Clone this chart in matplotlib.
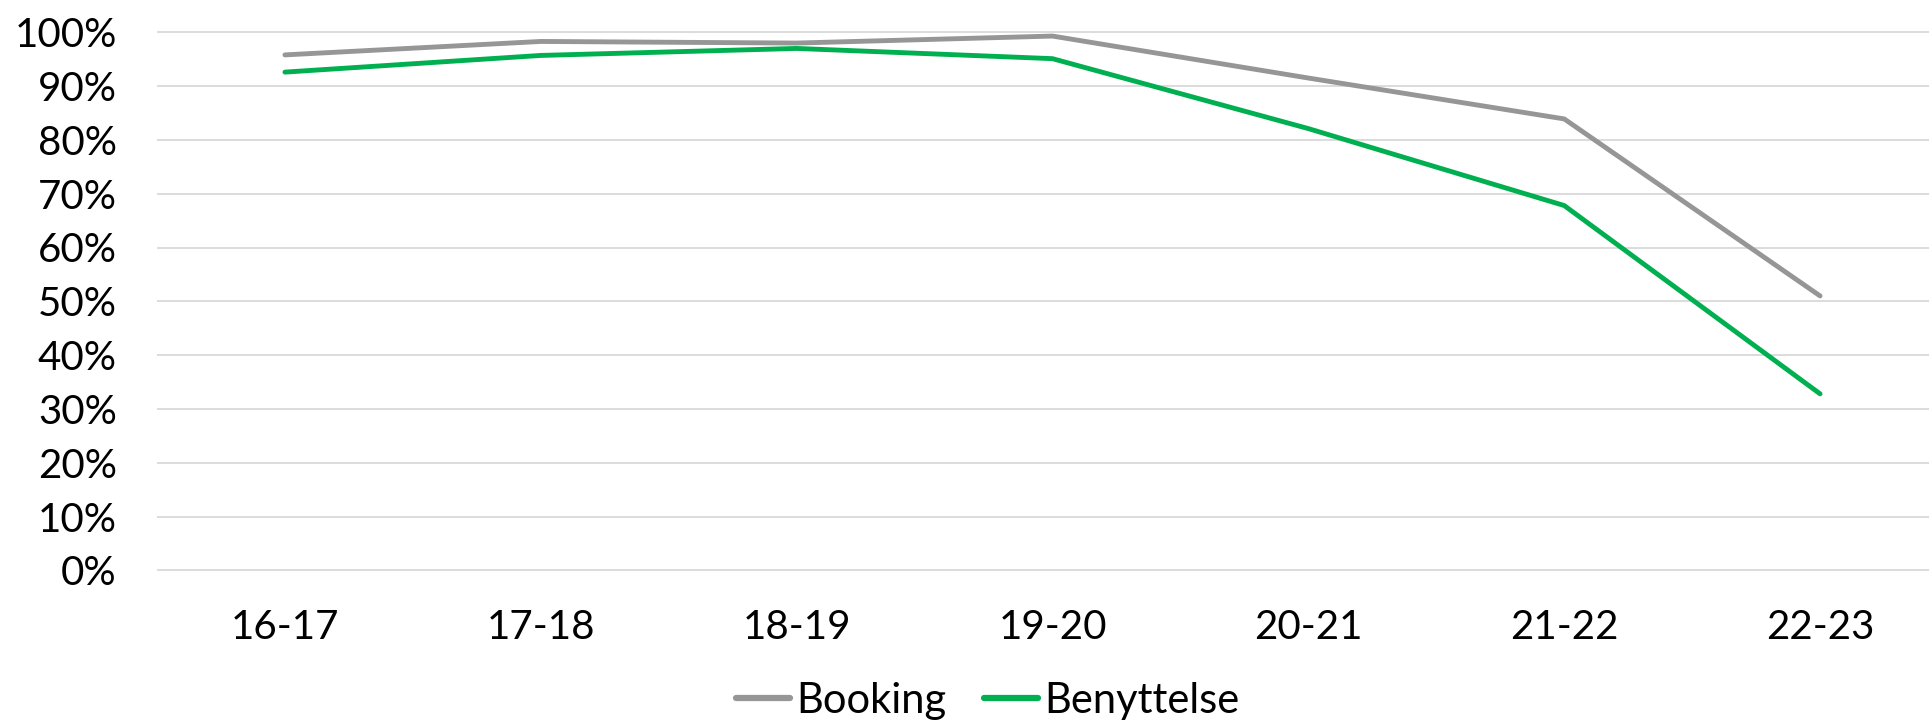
import matplotlib
matplotlib.use("Agg")
import matplotlib.pyplot as plt
from matplotlib.ticker import PercentFormatter

# Season labels and shares
seasons = ["16-17", "17-18", "18-19", "19-20", "20-21", "21-22", "22-23"]
booking = [0.958, 0.983, 0.980, 0.993, 0.915, 0.839, 0.510]
benyttelse = [0.926, 0.957, 0.970, 0.951, 0.821, 0.678, 0.328]
series_names = ["Booking", "Benyttelse"]
y_ticks = [i / 10 for i in range(11)]

GRAY = "#969696"
GREEN = "#00B050"
GRID = "#D9D9D9"

plt.rcParams["font.family"] = ["Lato", "DejaVu Sans"]

W, H = 1929, 721
fig = plt.figure(figsize=(W / 100, H / 100), dpi=100)

# plot area in pixels
left_px, right_px = 157, 1948
y0_px, y1_px = 570.3, 32.3
unit = y0_px - y1_px
ylo, yhi = -0.02, 1.02
bottom_px = y0_px - ylo * unit
top_px = y1_px - (yhi - 1) * unit
ax = fig.add_axes([left_px / W, 1 - bottom_px / H,
                   (right_px - left_px) / W, (bottom_px - top_px) / H])

x = list(range(len(seasons)))
ax.plot(x, booking, color=GRAY, lw=3.5, solid_capstyle="round",
        solid_joinstyle="round", label=series_names[0], zorder=3)
ax.plot(x, benyttelse, color=GREEN, lw=3.5, solid_capstyle="round",
        solid_joinstyle="round", label=series_names[1], zorder=3)

ax.set_xlim(-0.5, len(seasons) - 0.5)
ax.set_ylim(ylo, yhi)
ax.set_yticks(y_ticks)
ax.yaxis.set_major_formatter(PercentFormatter(1.0, decimals=0))
ax.set_xticks(x)
ax.set_xticklabels(seasons)
ax.grid(axis="y", color=GRID, lw=1.3)
ax.set_axisbelow(True)
for s in ax.spines.values():
    s.set_visible(False)
ax.tick_params(axis="both", length=0, labelsize=29, colors="black")
ax.tick_params(axis="y", pad=29)
ax.tick_params(axis="x", pad=20)

leg = fig.legend(loc="center", bbox_to_anchor=(988 / W, 1 - 701 / H),
                 ncol=2, frameon=False, handlelength=1.3,
                 handletextpad=0.15, columnspacing=0.9,
                 borderpad=0, borderaxespad=0,
                 prop={"size": 30})
for line in leg.get_lines():
    line.set_linewidth(4.5)
    line.set_solid_capstyle("round")

fig.savefig("out.png", dpi=100)
